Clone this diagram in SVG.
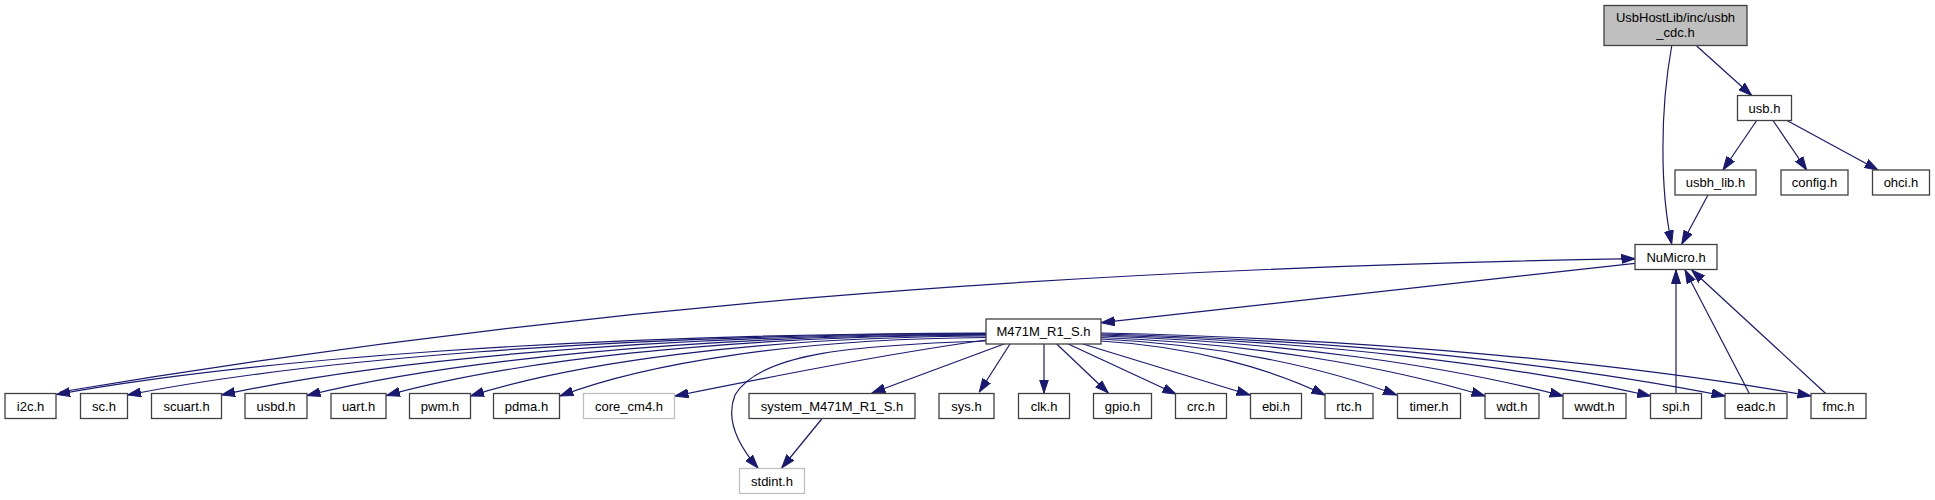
<svg xmlns="http://www.w3.org/2000/svg" width="1935" height="500" viewBox="0 0 1935 500">
<defs>
<marker id="ah" markerUnits="userSpaceOnUse" markerWidth="14" markerHeight="10" refX="13.5" refY="5" orient="auto" viewBox="0 0 14 10"><path d="M0,0.5 L13.5,5 L0,9.5 Z" fill="#191970" stroke="#191970" stroke-width="1"/></marker>
</defs>
<style>
.n rect{fill:#fff;stroke:#404040;stroke-width:1.3}
.g rect{stroke:#bfbfbf}
.root rect{fill:#bfbfbf}
.n text{font-family:"Liberation Sans",Arial,Helvetica,sans-serif;font-size:13px;text-anchor:middle;fill:#000}
.e path{fill:none;stroke:#191970;stroke-width:1.2;marker-end:url(#ah)}
</style>
<rect x="0" y="0" width="1935" height="500" fill="#fff"/>
<g id="edges" class="e">
<path d="M1671.7,46 C1660,110 1660,190 1671.7,244"/>
<path d="M1696.7,46 L1751.7,95.5"/>
<path d="M1756.7,120.5 L1723,170"/>
<path d="M1773,120.5 L1806.7,170"/>
<path d="M1787,120.5 L1878,170"/>
<path d="M1708,195 L1681.7,244"/>
<path d="M1635,263.3 L1101.3,322.7"/>
<path d="M60,392 C560,308.5 1035,268.9 1635,258.7"/>
<path d="M1676,393.5 L1676,270"/>
<path d="M1749.3,393.5 L1685,270"/>
<path d="M1825.7,393.5 L1691.7,270"/>
<path d="M986,333 C567.7,334.2 242.4,360.7 56.5,394.5"/>
<path d="M986,333.5 C599.7,334.7 299.2,361.2 127.5,395"/>
<path d="M986,334 C642,335.2 374.4,361.45 221.5,395"/>
<path d="M986,334.5 C680.5,335.7 442.8,362 307,395.5"/>
<path d="M986,335 C716.2,336.2 506.4,362.2 386.5,395.5"/>
<path d="M986,336 C754,337.2 573.6,363 470.5,396"/>
<path d="M986,337.5 C794.3,338.7 645.2,363.8 560,396"/>
<path d="M986,340 C880,355 770,377 675,396"/>
<path d="M986,341 C860,345 760,352 735,395 C725,420 738,445 758,468"/>
<path d="M1004,344 L872,393"/>
<path d="M821.7,419 L781.7,468"/>
<path d="M1010,344 L979.3,392"/>
<path d="M1044,344 L1044,393"/>
<path d="M1056.7,344 L1108.3,393"/>
<path d="M1068.3,344 L1176,394"/>
<path d="M1083,344 L1250,395"/>
<path d="M1101,341 C1190.6,346.4 1269,368 1325,395"/>
<path d="M1101,339 C1219.3,344.6 1322.8,367 1396.7,395"/>
<path d="M1101,337.5 C1254.6,343.4 1389,366.75 1485,396"/>
<path d="M1101,336 C1285.9,342 1447.7,366 1563.3,396"/>
<path d="M1101,335 C1320.9,341.1 1513.3,365.5 1650.7,396"/>
<path d="M1101,334 C1350.6,340.2 1569,365 1725,396"/>
<path d="M1101,333 C1385,339.3 1633.5,364.5 1811,396"/>
</g>
<g id="node_root" class="n root"><rect x="1604" y="5.5" width="143" height="40"/><text x="1675.5" y="22">UsbHostLib/inc/usbh</text><text x="1675.5" y="37">_cdc.h</text></g>
<g id="node_usb" class="n"><rect x="1737.5" y="95.5" width="54" height="25"/><text x="1764.5" y="112.5">usb.h</text></g>
<g id="node_usbh_lib" class="n"><rect x="1675" y="170" width="81" height="25"/><text x="1715.5" y="187">usbh_lib.h</text></g>
<g id="node_config" class="n"><rect x="1781" y="170" width="67" height="25"/><text x="1814.5" y="187">config.h</text></g>
<g id="node_ohci" class="n"><rect x="1872.5" y="170" width="57" height="25"/><text x="1901" y="187">ohci.h</text></g>
<g id="node_numicro" class="n"><rect x="1635" y="244.5" width="82" height="25"/><text x="1676" y="261.5">NuMicro.h</text></g>
<g id="node_m471" class="n"><rect x="986" y="319" width="115" height="25"/><text x="1043.5" y="336">M471M_R1_S.h</text></g>
<g id="node_i2c" class="n"><rect x="5" y="393.5" width="51" height="25"/><text x="30.5" y="410.5">i2c.h</text></g>
<g id="node_sc" class="n"><rect x="80.5" y="393.5" width="47" height="25"/><text x="104" y="410.5">sc.h</text></g>
<g id="node_scuart" class="n"><rect x="151.5" y="393.5" width="70" height="25"/><text x="186.5" y="410.5">scuart.h</text></g>
<g id="node_usbd" class="n"><rect x="245" y="393.5" width="62" height="25"/><text x="276" y="410.5">usbd.h</text></g>
<g id="node_uart" class="n"><rect x="331" y="393.5" width="55" height="25"/><text x="358.5" y="410.5">uart.h</text></g>
<g id="node_pwm" class="n"><rect x="409.5" y="393.5" width="61" height="25"/><text x="440" y="410.5">pwm.h</text></g>
<g id="node_pdma" class="n"><rect x="493.5" y="393.5" width="66" height="25"/><text x="526.5" y="410.5">pdma.h</text></g>
<g id="node_core_cm4" class="n g"><rect x="583.5" y="393.5" width="91" height="25"/><text x="629" y="410.5">core_cm4.h</text></g>
<g id="node_system" class="n"><rect x="749" y="393.5" width="166" height="25"/><text x="832" y="410.5">system_M471M_R1_S.h</text></g>
<g id="node_sys" class="n"><rect x="939" y="393.5" width="55" height="25"/><text x="966.5" y="410.5">sys.h</text></g>
<g id="node_clk" class="n"><rect x="1018.5" y="393.5" width="51" height="25"/><text x="1044" y="410.5">clk.h</text></g>
<g id="node_gpio" class="n"><rect x="1093.5" y="393.5" width="58" height="25"/><text x="1122.5" y="410.5">gpio.h</text></g>
<g id="node_crc" class="n"><rect x="1175.5" y="393.5" width="51" height="25"/><text x="1201" y="410.5">crc.h</text></g>
<g id="node_ebi" class="n"><rect x="1250.5" y="393.5" width="51" height="25"/><text x="1276" y="410.5">ebi.h</text></g>
<g id="node_rtc" class="n"><rect x="1325" y="393.5" width="48" height="25"/><text x="1349" y="410.5">rtc.h</text></g>
<g id="node_timer" class="n"><rect x="1397.5" y="393.5" width="63" height="25"/><text x="1429" y="410.5">timer.h</text></g>
<g id="node_wdt" class="n"><rect x="1485" y="393.5" width="54" height="25"/><text x="1512" y="410.5">wdt.h</text></g>
<g id="node_wwdt" class="n"><rect x="1563" y="393.5" width="63" height="25"/><text x="1594.5" y="410.5">wwdt.h</text></g>
<g id="node_spi" class="n"><rect x="1650.5" y="393.5" width="51" height="25"/><text x="1676" y="410.5">spi.h</text></g>
<g id="node_eadc" class="n"><rect x="1725" y="393.5" width="62" height="25"/><text x="1756" y="410.5">eadc.h</text></g>
<g id="node_fmc" class="n"><rect x="1811" y="393.5" width="55" height="25"/><text x="1838.5" y="410.5">fmc.h</text></g>
<g id="node_stdint" class="n g"><rect x="739.5" y="468.5" width="65" height="25"/><text x="772" y="485.5">stdint.h</text></g>
</svg>
